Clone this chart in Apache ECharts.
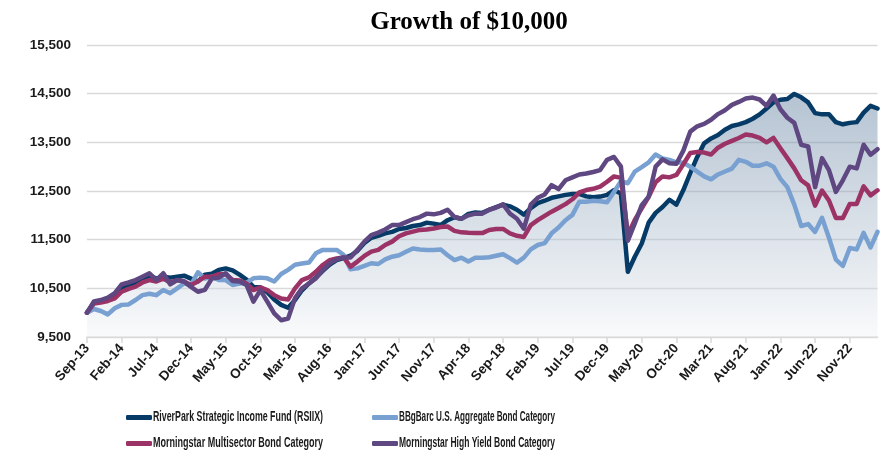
<!DOCTYPE html>
<html>
<head>
<meta charset="utf-8">
<script src="https://cdn.jsdelivr.net/npm/echarts@6/dist/echarts.min.js"></script>
<style>
html,body{margin:0;padding:0;background:#fff;}
#chart{width:892px;height:451px;}
</style>
</head>
<body>
<div id="chart"></div>
<script>
// Monthly categories Sep-13 .. Mar-23
var monthNames = ['Jan','Feb','Mar','Apr','May','Jun','Jul','Aug','Sep','Oct','Nov','Dec'];
var startYear = 2013, startMonth = 8, monthCount = 115;
var categories = [];
for (var k = 0; k < monthCount; k++) {
  var m = (startMonth + k) % 12;
  var y = startYear + Math.floor((startMonth + k) / 12);
  categories.push(monthNames[m] + '-' + String(y).slice(2));
}

var seriesNames = [
  'RiverPark Strategic Income Fund (RSIIX)',
  'BBgBarc U.S. Aggregate Bond Category',
  'Morningstar Multisector Bond Category',
  'Morningstar High Yield Bond Category'
];

var riverPark = [
10000,10200,10240,10290,10370,10500,10540,10600,10680,10760,
10700,10740,10720,10740,10760,10700,10640,10780,10800,10880,
10910,10870,10780,10680,10530,10520,10420,10270,10160,10100,
10260,10460,10600,10720,10860,10990,11080,11120,11170,11270,
11430,11540,11580,11630,11660,11720,11740,11780,11800,11850,
11830,11800,11900,11960,11930,12030,12060,12050,12115,12170,
12220,12185,12115,12015,12150,12250,12300,12360,12390,12420,
12440,12440,12390,12370,12385,12420,12520,12450,10840,11150,
11420,11850,12050,12170,12320,12220,12520,12870,13200,13480,
13580,13650,13760,13835,13870,13915,13985,14075,14195,14320,
14375,14390,14495,14425,14320,14100,14075,14075,13915,13870,
13900,13915,14110,14250,14195];

var aggregate = [
10000,10075,10035,9965,10090,10160,10170,10260,10360,10390,
10360,10465,10400,10500,10600,10570,10830,10700,10740,10670,
10670,10570,10600,10615,10705,10720,10705,10640,10795,10880,
10985,11010,11030,11220,11290,11290,11290,11190,10890,10910,
10960,11015,11000,11095,11150,11180,11250,11320,11300,11290,
11290,11300,11180,11080,11130,11050,11130,11130,11140,11170,
11200,11120,11030,11130,11300,11390,11430,11630,11750,11900,
12010,12280,12280,12300,12290,12270,12480,12700,12660,12900,
12990,13090,13250,13170,13140,13090,13080,13000,12900,12800,
12740,12840,12900,12960,13140,13100,13020,13020,13070,13000,
12750,12580,12220,11780,11820,11660,11950,11540,11090,10960,
11330,11300,11640,11340,11660];

var multisector = [
10000,10190,10210,10240,10295,10430,10490,10535,10620,10670,
10640,10700,10620,10670,10640,10570,10640,10740,10740,10790,
10790,10670,10660,10600,10465,10520,10465,10360,10290,10270,
10500,10670,10725,10840,10980,11080,11115,11135,10945,11050,
11165,11255,11290,11390,11460,11570,11630,11665,11700,11710,
11730,11760,11770,11680,11650,11640,11635,11635,11700,11720,
11720,11630,11580,11555,11800,11900,11990,12075,12150,12230,
12330,12470,12520,12545,12590,12690,12800,12770,11600,11905,
12145,12380,12680,12800,12780,12830,13050,13280,13300,13290,
13250,13390,13470,13530,13590,13660,13640,13590,13500,13590,
13380,13175,12965,12720,12615,12200,12510,12305,11945,11945,
12235,12235,12595,12410,12515];

var highYield = [
10000,10230,10260,10310,10400,10580,10620,10670,10740,10810,
10670,10810,10580,10670,10640,10530,10430,10470,10700,10720,
10810,10650,10640,10570,10225,10465,10225,9985,9845,9880,
10300,10500,10600,10705,10875,11015,11095,11135,11135,11290,
11460,11595,11645,11710,11800,11800,11860,11920,11965,12035,
12020,12050,12115,11965,11930,12000,12035,12035,12115,12160,
12225,12035,11930,11725,12220,12360,12430,12620,12540,12720,
12780,12840,12860,12890,12930,13140,13200,13000,11480,11835,
12210,12385,13000,13150,13070,13060,13330,13720,13830,13880,
13965,14080,14160,14270,14330,14400,14420,14380,14250,14460,
14180,14005,13900,13450,13415,12580,13175,12930,12480,12720,
13000,12965,13450,13245,13360];

var yTicks = [9500, 10500, 11500, 12500, 13500, 14500, 15500];

var colors = ['#053b66', '#78a0d0', '#9c3366', '#5f4781'];

var chart = echarts.init(document.getElementById('chart'), null, {renderer: 'canvas'});

// legend: icons from the legend component, labels as horizontally condensed text
var legendPos = [[126, 415], [372, 415], [126, 441], [372, 441]];
var legendTextWidth = [170, 156, 170, 156];
var legendFont = "bold 14px 'Liberation Sans', Arial, sans-serif";
var measureCtx = document.createElement('canvas').getContext('2d');
measureCtx.font = legendFont;

function mkLegend(idx) {
  return {
    left: legendPos[idx][0], top: legendPos[idx][1], orient: 'horizontal',
    itemWidth: 26, itemHeight: 5, icon: 'roundRect', itemGap: 0, padding: 0,
    data: [seriesNames[idx]], selectedMode: false,
    formatter: function () { return ''; },
    textStyle: {fontSize: 1}
  };
}

function mkLegendText(idx) {
  var w = measureCtx.measureText(seriesNames[idx]).width;
  return {
    type: 'text',
    x: legendPos[idx][0] + 27, y: legendPos[idx][1] + 2.5,
    scaleX: legendTextWidth[idx] / w, scaleY: 1,
    style: {
      text: seriesNames[idx], font: legendFont,
      fill: '#1a1a1a', verticalAlign: 'middle', align: 'left'
    },
    silent: true
  };
}

function mkSeries(name, data, idx, area) {
  var s = {
    name: name, type: 'line', data: data, symbol: 'none', smooth: false,
    lineStyle: {color: colors[idx], width: 4.5, join: 'round', cap: 'round'},
    itemStyle: {color: colors[idx]},
    emphasis: {disabled: true},
    animation: false
  };
  if (area) {
    s.areaStyle = {
      origin: 'start',
      color: new echarts.graphic.LinearGradient(0, 0, 0, 1, [
        {offset: 0, color: 'rgba(78,112,148,0.6)'},
        {offset: 1, color: 'rgba(240,243,246,0.6)'}
      ])
    };
  }
  return s;
}

chart.setOption({
  backgroundColor: '#ffffff',
  animation: false,
  title: {
    text: 'Growth of $10,000',
    left: 464, top: 5, textAlign: 'center',
    textStyle: {fontFamily: "'Liberation Serif', 'Times New Roman', serif", fontSize: 25, fontWeight: 'bold', color: '#000'}
  },
  legend: [mkLegend(0), mkLegend(1), mkLegend(2), mkLegend(3)],
  graphic: [mkLegendText(0), mkLegendText(1), mkLegendText(2), mkLegendText(3)],
  grid: {left: 87, right: 14.5, top: 45, bottom: 114, containLabel: false},
  xAxis: {
    type: 'category', data: categories, boundaryGap: false,
    axisLine: {lineStyle: {color: '#d9d9d9', width: 1.5}},
    axisTick: {show: true, interval: 4, length: 6, lineStyle: {color: '#d9d9d9', width: 1.5}},
    axisLabel: {
      interval: 4, rotate: 49, margin: 9,
      fontFamily: "'Liberation Sans', Arial, sans-serif", fontSize: 13.5, fontWeight: 'bold', color: '#1a1a1a'
    },
    splitLine: {show: false}
  },
  yAxis: {
    type: 'value', min: yTicks[0], max: yTicks[yTicks.length - 1], interval: 1000,
    axisLine: {show: false}, axisTick: {show: false},
    axisLabel: {
      margin: 16, fontFamily: "'Liberation Sans', Arial, sans-serif", fontSize: 13.5, fontWeight: 'bold', color: '#1a1a1a',
      formatter: function (v) { return v.toLocaleString('en-US'); }
    },
    splitLine: {lineStyle: {color: '#d9d9d9', width: 1.3}}
  },
  series: [
    mkSeries(seriesNames[0], riverPark, 0, true),
    mkSeries(seriesNames[1], aggregate, 1, false),
    mkSeries(seriesNames[2], multisector, 2, false),
    mkSeries(seriesNames[3], highYield, 3, false)
  ]
});
</script>
</body>
</html>
